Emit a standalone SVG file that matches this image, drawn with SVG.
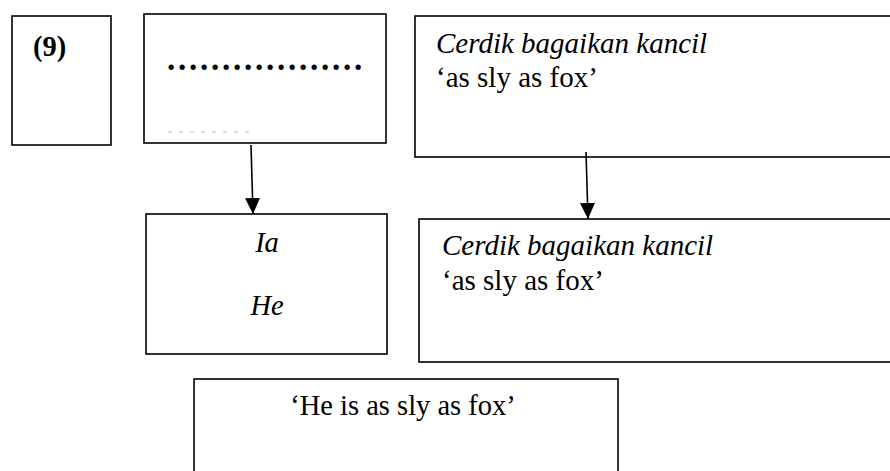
<svg xmlns="http://www.w3.org/2000/svg" width="890" height="471" viewBox="0 0 890 471">
  <style>
    .box { fill: #ffffff; stroke: #000000; stroke-width: 1.6; }
    text { font-family: 'Liberation Serif', 'Times New Roman', serif; font-size: 28.5px; fill: #000000; }
    .idiom { font-size: 29px; }
    .dots { font-size: 33px; letter-spacing: 2.75px; }
    .it { font-style: italic; }
    .b { font-weight: bold; }
    .mid { text-anchor: middle; }
    .conn { stroke: #000000; stroke-width: 1.6; fill: none; }
  </style>
  <defs>
    <marker id="arrow" viewBox="0 0 16 15" refX="16" refY="7.5" markerWidth="16" markerHeight="15" markerUnits="userSpaceOnUse" orient="auto">
      <path d="M0,0 L16,7.5 L0,15 Z" fill="#000000"/>
    </marker>
  </defs>
  <rect width="890" height="471" fill="#ffffff"/>

  <g id="label-9">
    <rect class="box" x="12" y="16" width="99" height="129"/>
    <text class="b" x="33" y="56">(9)</text>
  </g>

  <g id="blank-source">
    <rect class="box" x="144" y="14" width="242" height="129"/>
    <text class="b dots" x="167" y="70">..................</text>
    <line x1="168" y1="132" x2="252" y2="132" stroke="#bdbdbd" stroke-width="1" stroke-dasharray="4 7"/>
  </g>

  <g id="idiom-source">
    <rect class="box" x="415" y="16" width="490" height="141"/>
    <text class="it idiom" x="436" y="53">Cerdik bagaikan kancil</text>
    <text class="idiom" x="436" y="87">‘as sly as fox’</text>
  </g>

  <g id="pronoun">
    <rect class="box" x="146" y="214" width="241" height="140"/>
    <text class="it mid" x="267" y="252">Ia</text>
    <text class="it mid" x="267" y="315">He</text>
  </g>

  <g id="idiom-target">
    <rect class="box" x="419" y="219" width="490" height="143"/>
    <text class="it idiom" x="442" y="255">Cerdik bagaikan kancil</text>
    <text class="idiom" x="442" y="290">‘as sly as fox’</text>
  </g>

  <g id="translation">
    <rect class="box" x="194" y="379" width="424" height="110"/>
    <text class="mid" x="403" y="415">‘He is as sly as fox’</text>
  </g>

  <g id="connectors">
    <line class="conn" x1="251" y1="145" x2="253" y2="214" marker-end="url(#arrow)"/>
    <line class="conn" x1="586" y1="152" x2="588" y2="219" marker-end="url(#arrow)"/>
  </g>
</svg>
